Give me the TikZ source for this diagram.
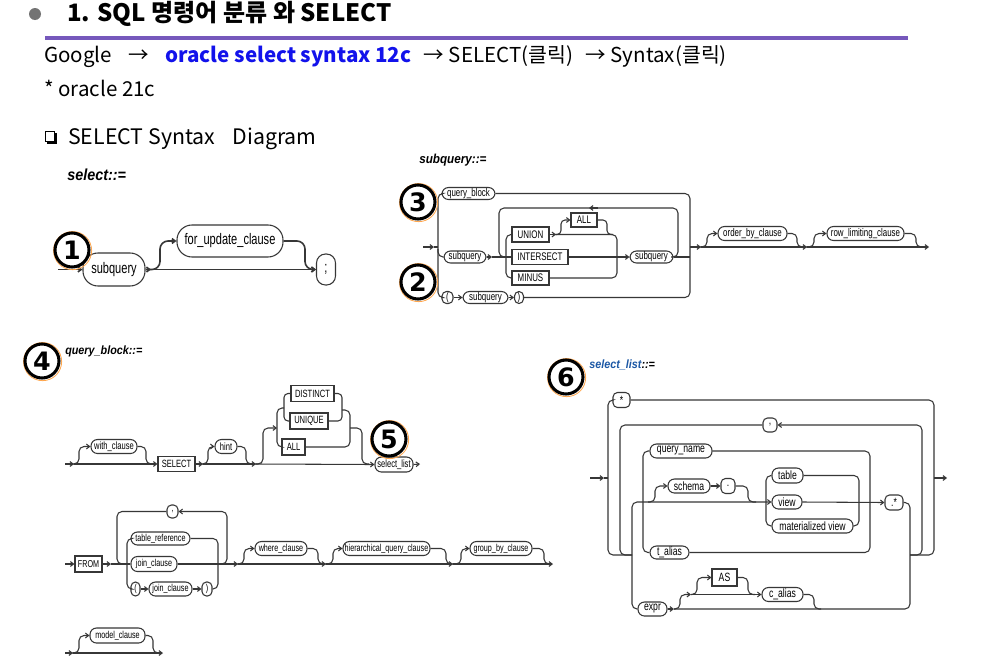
\documentclass[tikz,border=0pt]{standalone}
\usepackage{fontspec}
\setmainfont{Noto Sans CJK KR}
\newfontfamily\dg[FakeStretch=0.72]{Liberation Sans}
\newfontfamily\dgh[FakeStretch=0.9]{Liberation Sans}
\newfontfamily\dvs{DejaVu Sans}
\usetikzlibrary{arrows.meta}
\newdimen\px \px=0.75pt
\definecolor{purp}{RGB}{118,88,188}
\definecolor{lnk}{RGB}{18,18,235}
\definecolor{sblue}{RGB}{28,88,165}
\definecolor{dline}{RGB}{55,55,55}
\tikzset{
  ln/.style={draw=dline, line width=0.8pt},
  arr/.style={ln, -{Straight Barb[length=2.4pt,width=3.6pt]}},
  rc/.style={rounded corners=5\px},
  nt/.style={draw=dline, line width=0.8pt, rounded corners=6.5\px, inner sep=0pt, fill=white},
  sm/.style={nt, rounded corners=4.5\px},
  kw/.style={draw=dline, line width=0.8pt, inner sep=0pt, fill=white},
  sz/.style 2 args={minimum width=#1\px, minimum height=#2\px},
  hd/.style={anchor=west, inner sep=0pt},
  numc/.style={circle, draw=black, line width=2.3pt, minimum size=34\px, inner sep=0pt, font=\dvs\bfseries\fontsize{19}{19}\selectfont},
}
\begin{document}
\begin{tikzpicture}[x=0.75pt,y=-0.75pt]
\fill[white] (0,0) rectangle (988,664);
\useasboundingbox (0,0) rectangle (988,664);

% ---------- header ----------
\fill[black!55] (35,14) circle (4.5pt);
\node[hd, font=\bfseries\fontsize{18}{20}\selectfont] (title) at (67,14) {1. SQL 명령어 분류 와 SELECT};
\draw[purp, line width=2.3pt] (45,38) -- (908,38);
\node[hd, font=\fontsize{15.4}{18}\selectfont] (l2) at (44,57) {Google\hspace{0.8em}→\hspace{0.8em}{\bfseries\color{lnk}oracle select syntax 12c}\hspace{0.6em}→ SELECT(클릭)\hspace{0.6em}→ Syntax(클릭)};
\node[hd, font=\fontsize{15.4}{18}\selectfont] (l3) at (44,88) {* oracle 21c};
\draw[line width=1pt] (45.5,131.5) rectangle (54.5,141.5);
\fill (47,141.5) rectangle (57,144);
\fill (54.5,133) rectangle (57,144);
\node[hd, font=\fontsize{16}{18}\selectfont] (l4) at (68,138.5) {SELECT Syntax\hspace{0.8em}Diagram};

% ---------- headings ----------
\node[hd, font=\dgh\bfseries\itshape\fontsize{12}{12}\selectfont] (h1) at (67,175) {select::=};
\node[hd, font=\dgh\bfseries\itshape\fontsize{9.75}{10}\selectfont] (h2) at (419,160) {subquery::=};
\node[hd, font=\dgh\bfseries\itshape\fontsize{9}{10}\selectfont] (h3) at (65,351) {query\_block::=};
\node[hd, font=\dgh\bfseries\itshape\fontsize{9}{10}\selectfont] (h4) at (589,365) {{\color{sblue}select\_list}::=};

% ---------- select ::= ----------
\begin{scope}[every node/.append style={font=\dg\fontsize{11.5}{12}\selectfont, line width=1.2pt}, ln/.append style={line width=1.2pt}]
\node[nt, sz={62}{33}, rounded corners=15\px] (s1) at (114,269.5) {subquery};
\node[nt, sz={106}{32}, rounded corners=15\px] (fu) at (230,241) {for\_update\_clause};
\node[nt, sz={19}{31}, rounded corners=9\px] (semi) at (326,269.5) {;};
\draw[arr] (58,269.5) -- (s1.west);
\draw[arr] (s1.east) -- (151,269.5);
\draw[arr] (151,269.5) -- (semi.west);
\draw[arr, rounded corners=8\px] (146,269.5) -- (160,269.5) -- (160,241) -- (fu.west);
\draw[arr, rounded corners=8\px] (fu.east) -- (305,241) -- (305,269.5) -- (semi.west);
\end{scope}

% ---------- subquery ::= ----------
\begin{scope}[every node/.append style={font=\dg\fontsize{8.25}{9}\selectfont}]
\node[nt, sz={53}{12}] (qb) at (468.5,193.5) {query\_block};
\node[nt, sz={42}{12}] (sqa) at (465,257) {subquery};
\node[kw, sz={37}{15}] (un) at (530.5,234.5) {UNION};
\node[kw, sz={56}{15}] (it) at (540,257) {INTERSECT};
\node[kw, sz={37}{14}] (mi) at (530.5,278) {MINUS};
\node[kw, sz={26}{14}] (al) at (584,220) {ALL};
\node[nt, sz={43}{12}] (sqb) at (651.5,257) {subquery};
\node[sm, sz={11}{12}] (lp) at (447.5,297.5) {(};
\node[nt, sz={45}{12}] (sqc) at (485.5,297.5) {subquery};
\node[sm, sz={9}{12}] (rp) at (519,297.5) {)};
\node[nt, sz={69}{14}] (ob) at (752.5,233.5) {order\_by\_clause};
\node[nt, sz={77}{14}] (rl) at (865.5,233.5) {row\_limiting\_clause};
\draw[arr] (423,247) -- (434,247);
\draw[ln] (434,247) -- (438,247);
\draw[ln, rc] (qb.west) -- (438,193.5) -- (438,297.5) -- (lp.west);
\draw[ln, rc] (438,249) -- (438,257) -- (sqa.west);
\draw[arr] (sqa.east) -- (492,257);
\draw[ln] (492,257) -- (it.west);
\draw[ln, rc] (507,257) -- (499,257) -- (499,208) -- (678,208) -- (678,257) -- (671,257);
\draw[arr] (598,208) -- (589,208);
\draw[ln, rc] (un.west) -- (506,234.5) -- (506,278) -- (mi.west);
\draw[arr] (un.east) -- (556,234.5);
\draw[ln, rc] (556,234.5) -- (617,234.5) -- (617,278) -- (mi.east);
\draw[arr, rounded corners=4\px] (554,234.5) -- (561,234.5) -- (561,220) -- (al.west);
\draw[ln, rounded corners=4\px] (al.east) -- (607,220) -- (607,234.5) -- (613,234.5);
\draw[arr] (it.east) -- (sqb.west);
\draw[ln] (sqb.east) -- (690,257);
\draw[ln, rc] (qb.east) -- (690,193.5) -- (690,297.5) -- (rp.east);
\draw[arr] (lp.east) -- (sqc.west);
\draw[arr] (sqc.east) -- (rp.west);
\draw[arr] (690,247) -- (701,247);
\draw[arr] (701,247) -- (807,247);
\draw[arr] (807,247) -- (929,247);
\draw[arr, rc] (699,247) -- (707,247) -- (707,233.5) -- (ob.west);
\draw[ln, rc] (ob.east) -- (797,233.5) -- (797,247) -- (804,247);
\draw[arr, rc] (806,247) -- (814,247) -- (814,233.5) -- (rl.west);
\draw[ln, rc] (rl.east) -- (916,233.5) -- (916,247) -- (923,247);
\end{scope}

% ---------- query_block ::= ----------
\begin{scope}[every node/.append style={font=\dg\fontsize{7.9}{9}\selectfont}]
\node[nt, sz={46}{14}] (wc) at (114,446.5) {with\_clause};
\node[kw, sz={37}{15}] (se) at (176.5,464) {SELECT};
\node[nt, sz={22}{14}] (hi) at (226,446.5) {hint};
\node[kw, sz={43}{16}] (di) at (312.5,393.5) {DISTINCT};
\node[kw, sz={38}{16}] (uq) at (309,421) {UNIQUE};
\node[kw, sz={23}{16}] (a2) at (293.5,447) {ALL};
\node[nt, sz={38}{15}] (sl) at (394,464.5) {select\_list};
\draw[arr] (65,464) -- (74,464);
\draw[arr] (74,464) -- (se.west);
\draw[arr, rc] (72,464) -- (79,464) -- (79,446.5) -- (wc.west);
\draw[ln, rc] (wc.east) -- (146,446.5) -- (146,464) -- (153,464);
\draw[arr] (se.east) -- (203,464);
\draw[arr] (203,464) -- (256,464);
\draw[arr] (256,464) -- (sl.west);
\draw[arr, rc] (201,464) -- (208,464) -- (208,446.5) -- (hi.west);
\draw[ln, rc] (hi.east) -- (246,446.5) -- (246,464) -- (253,464);
\draw[arr, rc] (255,464) -- (263,464) -- (263,428) -- (277,428);
\draw[ln, rc] (284,408) -- (277,408) -- (277,447) -- (a2.west);
\draw[ln, rounded corners=4\px] (di.west) -- (284,393.5) -- (284,421) -- (uq.west);
\draw[ln, rounded corners=4\px] (di.east) -- (342,393.5) -- (342,421) -- (uq.east);
\draw[ln, rc] (342,410) -- (350,410) -- (350,447) -- (a2.east);
\draw[ln, rc] (350,428) -- (362,428) -- (362,464) -- (369,464);
\draw[arr] (sl.east) -- (420,464);
\end{scope}

% ---------- FROM ... ----------
\begin{scope}[every node/.append style={font=\dg\fontsize{7.5}{9}\selectfont}]
\node[kw, sz={27}{16}] (fr) at (88.5,564) {FROM};
\node[sm, sz={11}{13}] (cm) at (172.5,511.5) {,};
\node[nt, sz={59}{13}] (tr) at (160.5,538.5) {table\_reference};
\node[nt, sz={46}{15}] (jc) at (154,564) {join\_clause};
\node[sm, sz={9}{14}] (lp2) at (135.5,589) {(};
\node[nt, sz={43}{14}] (jc2) at (170.5,589) {join\_clause};
\node[sm, sz={10}{14}] (rp2) at (207,589) {)};
\node[nt, sz={52}{14}] (wh) at (281,548.5) {where\_clause};
\node[nt, sz={87}{14}] (hq) at (386.5,548.5) {hierarchical\_query\_clause};
\node[nt, sz={62}{14}] (gb) at (501,548.5) {group\_by\_clause};
\node[nt, sz={55}{15}] (mc) at (117.5,635.5) {model\_clause};
\draw[arr] (65,564) -- (fr.west);
\draw[arr] (fr.east) -- (111,564);
\draw[ln] (111,564) -- (jc.west);
\draw[ln, rc] (124,564) -- (117,564) -- (117,511.5) -- (cm.west);
\draw[arr, rc] (220,564) -- (227,564) -- (227,511.5) -- (cm.east);
\draw[ln, rc] (tr.west) -- (127,538.5) -- (127,589) -- (lp2.west);
\draw[ln, rc] (tr.east) -- (218,538.5) -- (218,589) -- (rp2.east);
\draw[arr] (lp2.east) -- (jc2.west);
\draw[arr] (jc2.east) -- (rp2.west);
\draw[arr] (jc.east) -- (238,564);
\draw[arr] (238,564) -- (326,564);
\draw[arr] (326,564) -- (453,564);
\draw[arr] (453,564) -- (553,564);
\draw[arr, rc] (236,564) -- (244,564) -- (244,548.5) -- (wh.west);
\draw[ln, rc] (wh.east) -- (318,548.5) -- (318,564) -- (325,564);
\draw[arr, rc] (324,564) -- (333,564) -- (333,548.5) -- (hq.west);
\draw[ln, rc] (hq.east) -- (446,548.5) -- (446,564) -- (452,564);
\draw[arr, rc] (451,564) -- (461,564) -- (461,548.5) -- (gb.west);
\draw[ln, rc] (gb.east) -- (544,548.5) -- (544,564) -- (551,564);
\draw[arr] (65,653) -- (73,653);
\draw[arr] (73,653) -- (163,653);
\draw[arr, rc] (71,653) -- (79,653) -- (79,635.5) -- (mc.west);
\draw[ln, rc] (mc.east) -- (153,635.5) -- (153,653) -- (160,653);
\end{scope}

% ---------- select_list ::= ----------
\begin{scope}[every node/.append style={font=\dg\fontsize{9}{10}\selectfont}]
\node[sm, sz={17}{15}] (st) at (621.5,400) {*};
\node[sm, sz={14}{14}] (cm2) at (770,425) {,};
\node[nt, sz={62}{14}] (qn) at (681,451) {query\_name};
\node[nt, sz={42}{14}] (sc) at (689,486) {schema};
\node[sm, sz={14}{15}] (dt) at (728,486) {.};
\node[nt, sz={31}{15}] (tb) at (787.5,475.5) {table};
\node[nt, sz={30}{14}] (vw) at (787,502) {view};
\node[nt, sz={81}{14}] (mv) at (812.5,526) {materialized view};
\node[sm, sz={18}{15}] (ds) at (894,502.5) {.*};
\node[nt, sz={39}{13}] (ta) at (669.5,552.5) {t\_alias};
\node[nt, sz={29}{14}] (ex) at (652.5,609) {expr};
\node[kw, sz={25}{17}] (as) at (724.5,577.5) {AS};
\node[nt, sz={41}{14}] (ca) at (782.5,594.5) {c\_alias};
\draw[arr] (590,478) -- (604,478);
\draw[ln] (604,478) -- (608,478);
\draw[ln, rc] (632,555) -- (608,555) -- (608,400) -- (st.west);
\draw[ln, rc] (st.east) -- (934,400) -- (934,555) -- (910,555);
\draw[ln, rc] (632,555) -- (620,555) -- (620,425) -- (cm2.west);
\draw[arr, rc] (910,555) -- (922,555) -- (922,425) -- (cm2.east);
\draw[arr] (934,478) -- (947,478);
\draw[arr, rc] (ex.west) -- (632,609) -- (632,502) -- (vw.west);
\draw[ln, rc] (qn.west) -- (643,451) -- (643,552.5) -- (ta.west);
\draw[ln, rc] (qn.east) -- (870,451) -- (870,552.5) -- (ta.east);
\draw[arr, rc] (648,502) -- (655,502) -- (655,486) -- (sc.west);
\draw[arr] (sc.east) -- (dt.west);
\draw[ln, rc] (dt.east) -- (748,486) -- (748,502) -- (756,502);
\draw[ln, rc] (tb.west) -- (766,475.5) -- (766,526) -- (mv.west);
\draw[ln, rc] (tb.east) -- (859,475.5) -- (859,526) -- (mv.east);
\draw[arr] (vw.east) -- (ds.west);
\draw[ln, rc] (ds.east) -- (910,502.5) -- (910,609) -- (674,609);
\draw[arr] (ex.east) -- (674,609);
\draw[arr, rc] (674,609) -- (680,609) -- (680,594.5) -- (691,594.5);
\draw[arr] (691,594.5) -- (ca.west);
\draw[arr, rc] (691,594.5) -- (697,594.5) -- (697,577.5) -- (as.west);
\draw[ln, rc] (as.east) -- (748,577.5) -- (748,594.5) -- (755,594.5);
\draw[ln, rc] (ca.east) -- (814,594.5) -- (814,609) -- (821,609);
\end{scope}

% ---------- circled numbers ----------
\foreach \n/\x/\y in {1/72/250, 2/418/282, 3/418/202, 4/42/361, 5/389/439, 6/566/377} {
  \draw[orange!70, line width=0.6pt] (\x+0.6,\y+0.6) circle (14.3pt);
  \node[numc] (c\n) at (\x,\y) {\n};
}
\end{tikzpicture}
\end{document}
